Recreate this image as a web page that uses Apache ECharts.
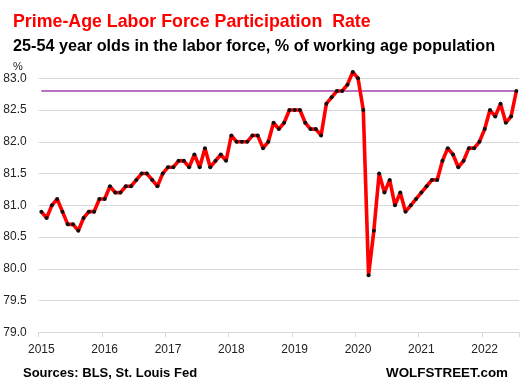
<!DOCTYPE html>
<html>
<head>
<meta charset="utf-8">
<script src="https://cdn.jsdelivr.net/npm/echarts@6/dist/echarts.min.js"></script>
<style>html,body{margin:0;padding:0;background:#fff}#c{width:523px;height:388px}</style>
</head>
<body>
<div id="c"></div>
<script>
const years = ['2015','2016','2017','2018','2019','2020','2021','2022'];
const v2015 = [80.9, 80.8, 81.0, 81.1, 80.9, 80.7, 80.7, 80.6, 80.8, 80.9, 80.9, 81.1];
const v2016 = [81.1, 81.3, 81.2, 81.2, 81.3, 81.3, 81.4, 81.5, 81.5, 81.4, 81.3, 81.5];
const v2017 = [81.6, 81.6, 81.7, 81.7, 81.6, 81.8, 81.6, 81.9, 81.6, 81.7, 81.8, 81.7];
const v2018 = [82.1, 82.0, 82.0, 82.0, 82.1, 82.1, 81.9, 82.0, 82.3, 82.2, 82.3, 82.5];
const v2019 = [82.5, 82.5, 82.3, 82.2, 82.2, 82.1, 82.6, 82.7, 82.8, 82.8, 82.9, 83.1];
const v2020 = [83.0, 82.5, 79.9, 80.6, 81.5, 81.2, 81.4, 81.0, 81.2, 80.9, 81.0, 81.1];
const v2021 = [81.2, 81.3, 81.4, 81.4, 81.7, 81.9, 81.8, 81.6, 81.7, 81.9, 81.9, 82.0];
const v2022 = [82.2, 82.5, 82.4, 82.6, 82.3, 82.4, 82.8];
const refLevel = 82.8;
const yTicks = {min: 79, max: 83, step: 0.5};

const values = [].concat(v2015, v2016, v2017, v2018, v2019, v2020, v2021, v2022);
const categories = [];
const perYear = [v2015, v2016, v2017, v2018, v2019, v2020, v2021, v2022];
perYear.forEach((arr, yi) => arr.forEach((_, m) => categories.push(years[yi] + '-' + String(m + 1).padStart(2, '0'))));

const chart = echarts.init(document.getElementById('c'), null, {renderer: 'canvas'});
const FONT = '"Liberation Sans", Arial, sans-serif';
const PURPLE = '#a040b0';
chart.setOption({
  animation: false,
  backgroundColor: '#ffffff',
  grid: {left: 38.7, right: 4, top: 78.3, bottom: 55.7, containLabel: false},
  title: [
    {text: 'Prime-Age Labor Force Participation  Rate', left: 8, top: 8,
     textStyle: {color: '#ff0000', fontSize: 17.8, fontWeight: 'bold', fontFamily: FONT}},
    {text: '25-54 year olds in the labor force, % of working age population', left: 8, top: 34,
     textStyle: {color: '#000000', fontSize: 16.2, fontWeight: 'bold', fontFamily: FONT}},
    {text: '%', left: 8, top: 56, textStyle: {color: '#222', fontSize: 11, fontWeight: 'normal', fontFamily: FONT}},
    {text: 'Sources: BLS, St. Louis Fed', left: 18, top: 362,
     textStyle: {color: '#000', fontSize: 13, fontWeight: 'bold', fontFamily: FONT}},
    {text: 'WOLFSTREET.com', right: 10, top: 362,
     textStyle: {color: '#000', fontSize: 13.4, fontWeight: 'bold', fontFamily: FONT}}
  ],
  xAxis: {
    type: 'category',
    data: categories,
    boundaryGap: true,
    axisLine: {lineStyle: {color: '#d9d9d9', width: 1}},
    axisTick: {show: true, interval: 11, length: 5, lineStyle: {color: '#d9d9d9'}},
    axisLabel: {interval: 11, margin: 11, color: '#222', fontSize: 12, fontFamily: FONT,
      formatter: v => v.slice(0, 4)},
    splitLine: {show: false}
  },
  yAxis: {
    type: 'value',
    min: yTicks.min, max: yTicks.max, interval: yTicks.step,
    axisLine: {show: false},
    axisTick: {show: false},
    axisLabel: {margin: 12, color: '#222', fontSize: 12, fontFamily: FONT, formatter: v => v.toFixed(1)},
    splitLine: {lineStyle: {color: '#d9d9d9', width: 1}}
  },
  series: [{
    type: 'line',
    data: values,
    clip: false,
    symbol: 'circle',
    symbolSize: 4,
    showSymbol: true,
    showAllSymbol: true,
    lineStyle: {color: '#ff0000', width: 3.6},
    itemStyle: {color: '#111111'},
    z: 3,
    markLine: {
      silent: true,
      symbol: ['none', 'none'],
      label: {show: false},
      z: 1,
      data: [[
        {coord: [categories[0], refLevel], lineStyle: {color: PURPLE, width: 1.5, type: 'solid'}},
        {coord: [categories[categories.length - 1], refLevel]}
      ]]
    }
  }]
});
</script>
</body>
</html>
